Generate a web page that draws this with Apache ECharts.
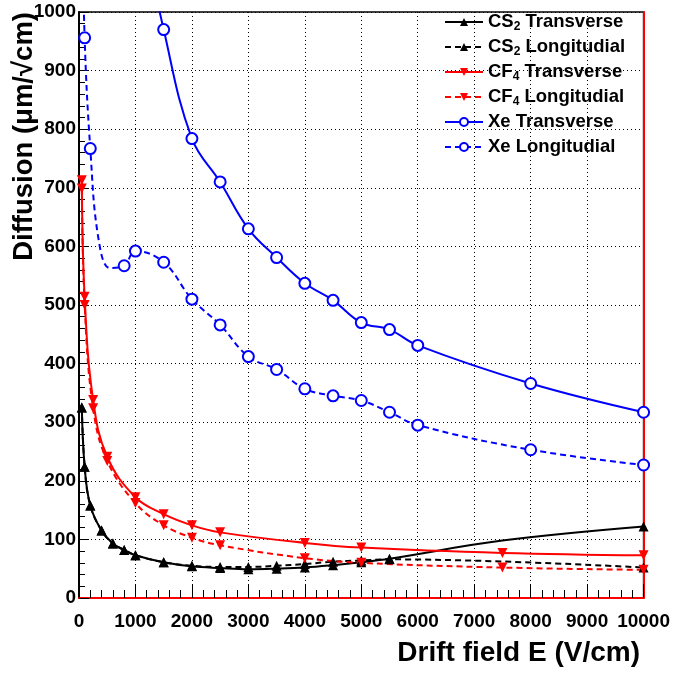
<!DOCTYPE html>
<html>
<head>
<meta charset="utf-8">
<script src="https://cdn.jsdelivr.net/npm/echarts@6/dist/echarts.min.js"></script>
<style>html,body{margin:0;padding:0;background:#fff}</style>
</head>
<body>
<div id="chart" style="width:673px;height:673px"></div>
<script>
// values: [drift field (V/cm), diffusion (um/sqrt(cm))]
// points given as objects with symbol 'none' are read off the drawn curve (no marker there)
const cs2Trans = [[50, 325], [100, 224], [200, 158], [400, 115], [600, 93], [800, 82], [1000, 73], [1500, 61], [2000, 54], [2500, 51], [3000, 49], [3500, 50], [4000, 52], [4500, 56], [5000, 61], [5500, 67], { value: [7500, 98], symbol: 'none' }, [10000, 122]]
const cs2Long = [[50, 325], [100, 224], [200, 158], [400, 115], [600, 93], [800, 82], [1000, 73], [1500, 61], [2000, 55], [2500, 53], [3000, 53], [3500, 55], [4000, 58], [4500, 62], [5000, 64], [5500, 66], [10000, 52]]
const cf4Trans = [[50, 713], [100, 514], [250, 338], [500, 241], [1000, 172], [1500, 143], [2000, 124], [2500, 112], [4000, 94], [5000, 86], [7500, 77], [10000, 73]]
const cf4Long = [[50, 699], [100, 500], [250, 324], [500, 234], [1000, 162], [1500, 124], [2000, 103], [2500, 90], [4000, 68], [5000, 60], [7500, 52], [10000, 48]]
const xeTrans = [[1000, 1200], [1500, 970], [2000, 784], [2500, 710], [3000, 630], [3500, 581], [4000, 537], [4500, 508], [5000, 470], [5500, 458], [6000, 431], [8000, 366], [10000, 317]]
const xeLong = [[50, 1200], [100, 956], [200, 767], { value: [350, 610], symbol: 'none' }, { value: [550, 563], symbol: 'none' }, [800, 567], [1000, 592], [1500, 573], [2000, 510], [2500, 466], [3000, 412], [3500, 390], [4000, 357], [4500, 345], [5000, 337], [5500, 317], [6000, 295], [8000, 253], [10000, 227]]
const xTicks = [0, 1000, 2000, 3000, 4000, 5000, 6000, 7000, 8000, 9000, 10000]
const yTicks = [0, 100, 200, 300, 400, 500, 600, 700, 800, 900, 1000]

const font = 'Liberation Sans'
const chart = echarts.init(document.getElementById('chart'))

function makeLine(name, data, color, dashed, symbol, rotate) {
  return {
    name,
    type: 'line',
    data,
    smooth: 0.4,
    clip: true,
    symbol,
    symbolSize: symbol === 'emptyCircle' ? 11 : 10,
    symbolRotate: rotate,
    lineStyle: { color, width: 2, type: dashed ? [6, 4] : 'solid' },
    itemStyle: { color, borderColor: color, borderWidth: symbol === 'emptyCircle' ? 1.3 : 0 },
    animation: false
  }
}

const option = {
  backgroundColor: '#fff',
  grid: {
    left: 79,
    right: 28,
    top: 12,
    bottom: 75,
    show: true,
    borderColor: '#000',
    borderWidth: 1.5
  },
  legend: {
    orient: 'vertical',
    left: 439,
    top: 6,
    itemWidth: 38,
    itemHeight: 10,
    itemGap: 3,
    formatter: (n) => n.replace(/(CS|CF)(\d)/, '$1{sub|$2}'),
    textStyle: {
      fontFamily: font,
      fontSize: 18.5,
      fontWeight: 'bold',
      color: '#000',
      lineHeight: 22,
      rich: {
        sub: { fontFamily: font, fontSize: 12, fontWeight: 'bold', color: '#000', padding: [9, 0, 0, 0] }
      }
    }
  },
  xAxis: {
    type: 'value',
    min: 0,
    max: 10000,
    interval: 1000,
    axisLine: { show: true, onZero: false, lineStyle: { color: '#ff0000', width: 2 } },
    axisTick: { show: true, inside: true, length: 14, lineStyle: { color: '#000' } },
    minorTick: { show: true, splitNumber: 5, length: 8, lineStyle: { color: '#000' } },
    splitLine: { show: true, lineStyle: { color: '#000', type: [1, 3], width: 1 } },
    axisLabel: {
      fontFamily: font,
      fontSize: 19,
      fontWeight: 'bold',
      color: '#000',
      margin: 14,
      formatter: (v) => (xTicks.includes(v) ? String(v) : '')
    }
  },
  yAxis: [
    {
      type: 'value',
      min: 0,
      max: 1000,
      interval: 100,
      axisLine: { show: true, onZero: false, lineStyle: { color: '#000', width: 2 } },
      axisTick: { show: true, inside: true, length: 10, lineStyle: { color: '#000' } },
      minorTick: { show: true, splitNumber: 5, length: 6, lineStyle: { color: '#000' } },
      splitLine: { show: true, lineStyle: { color: '#000', type: [1, 3], width: 1 } },
      axisLabel: {
        fontFamily: font,
        fontSize: 19,
        fontWeight: 'bold',
        color: '#000',
        margin: 3,
        formatter: (v) => (yTicks.includes(v) ? String(v) : '')
      }
    },
    {
      type: 'value',
      position: 'right',
      min: 0,
      max: 1000,
      axisLine: { show: true, onZero: false, lineStyle: { color: '#ff0000', width: 2 } },
      axisTick: { show: false },
      axisLabel: { show: false },
      splitLine: { show: false }
    }
  ],
  graphic: [
    {
      type: 'text',
      x: 24,
      y: 12,
      rotation: Math.PI / 2,
      style: {
        text: 'Diffusion (\u03bcm/\u221acm)',
        fontFamily: font,
        fontSize: 27.5,
        fontWeight: 'bold',
        fill: '#000',
        textAlign: 'right',
        textVerticalAlign: 'middle'
      }
    },
    {
      type: 'text',
      right: 33,
      top: 639,
      style: {
        text: 'Drift field E (V/cm)',
        fontFamily: font,
        fontSize: 28,
        fontWeight: 'bold',
        fill: '#000'
      }
    }
  ],
  series: [
    makeLine('CS2 Transverse', cs2Trans, '#000', false, 'triangle', 0),
    makeLine('CS2 Longitudial', cs2Long, '#000', true, 'triangle', 0),
    makeLine('CF4 Transverse', cf4Trans, '#ff0000', false, 'triangle', 180),
    makeLine('CF4 Longitudial', cf4Long, '#ff0000', true, 'triangle', 180),
    makeLine('Xe Transverse', xeTrans, '#0000ff', false, 'emptyCircle', 0),
    makeLine('Xe Longitudial', xeLong, '#0000ff', true, 'emptyCircle', 0)
  ]
}

chart.setOption(option)
</script>
</body>
</html>
